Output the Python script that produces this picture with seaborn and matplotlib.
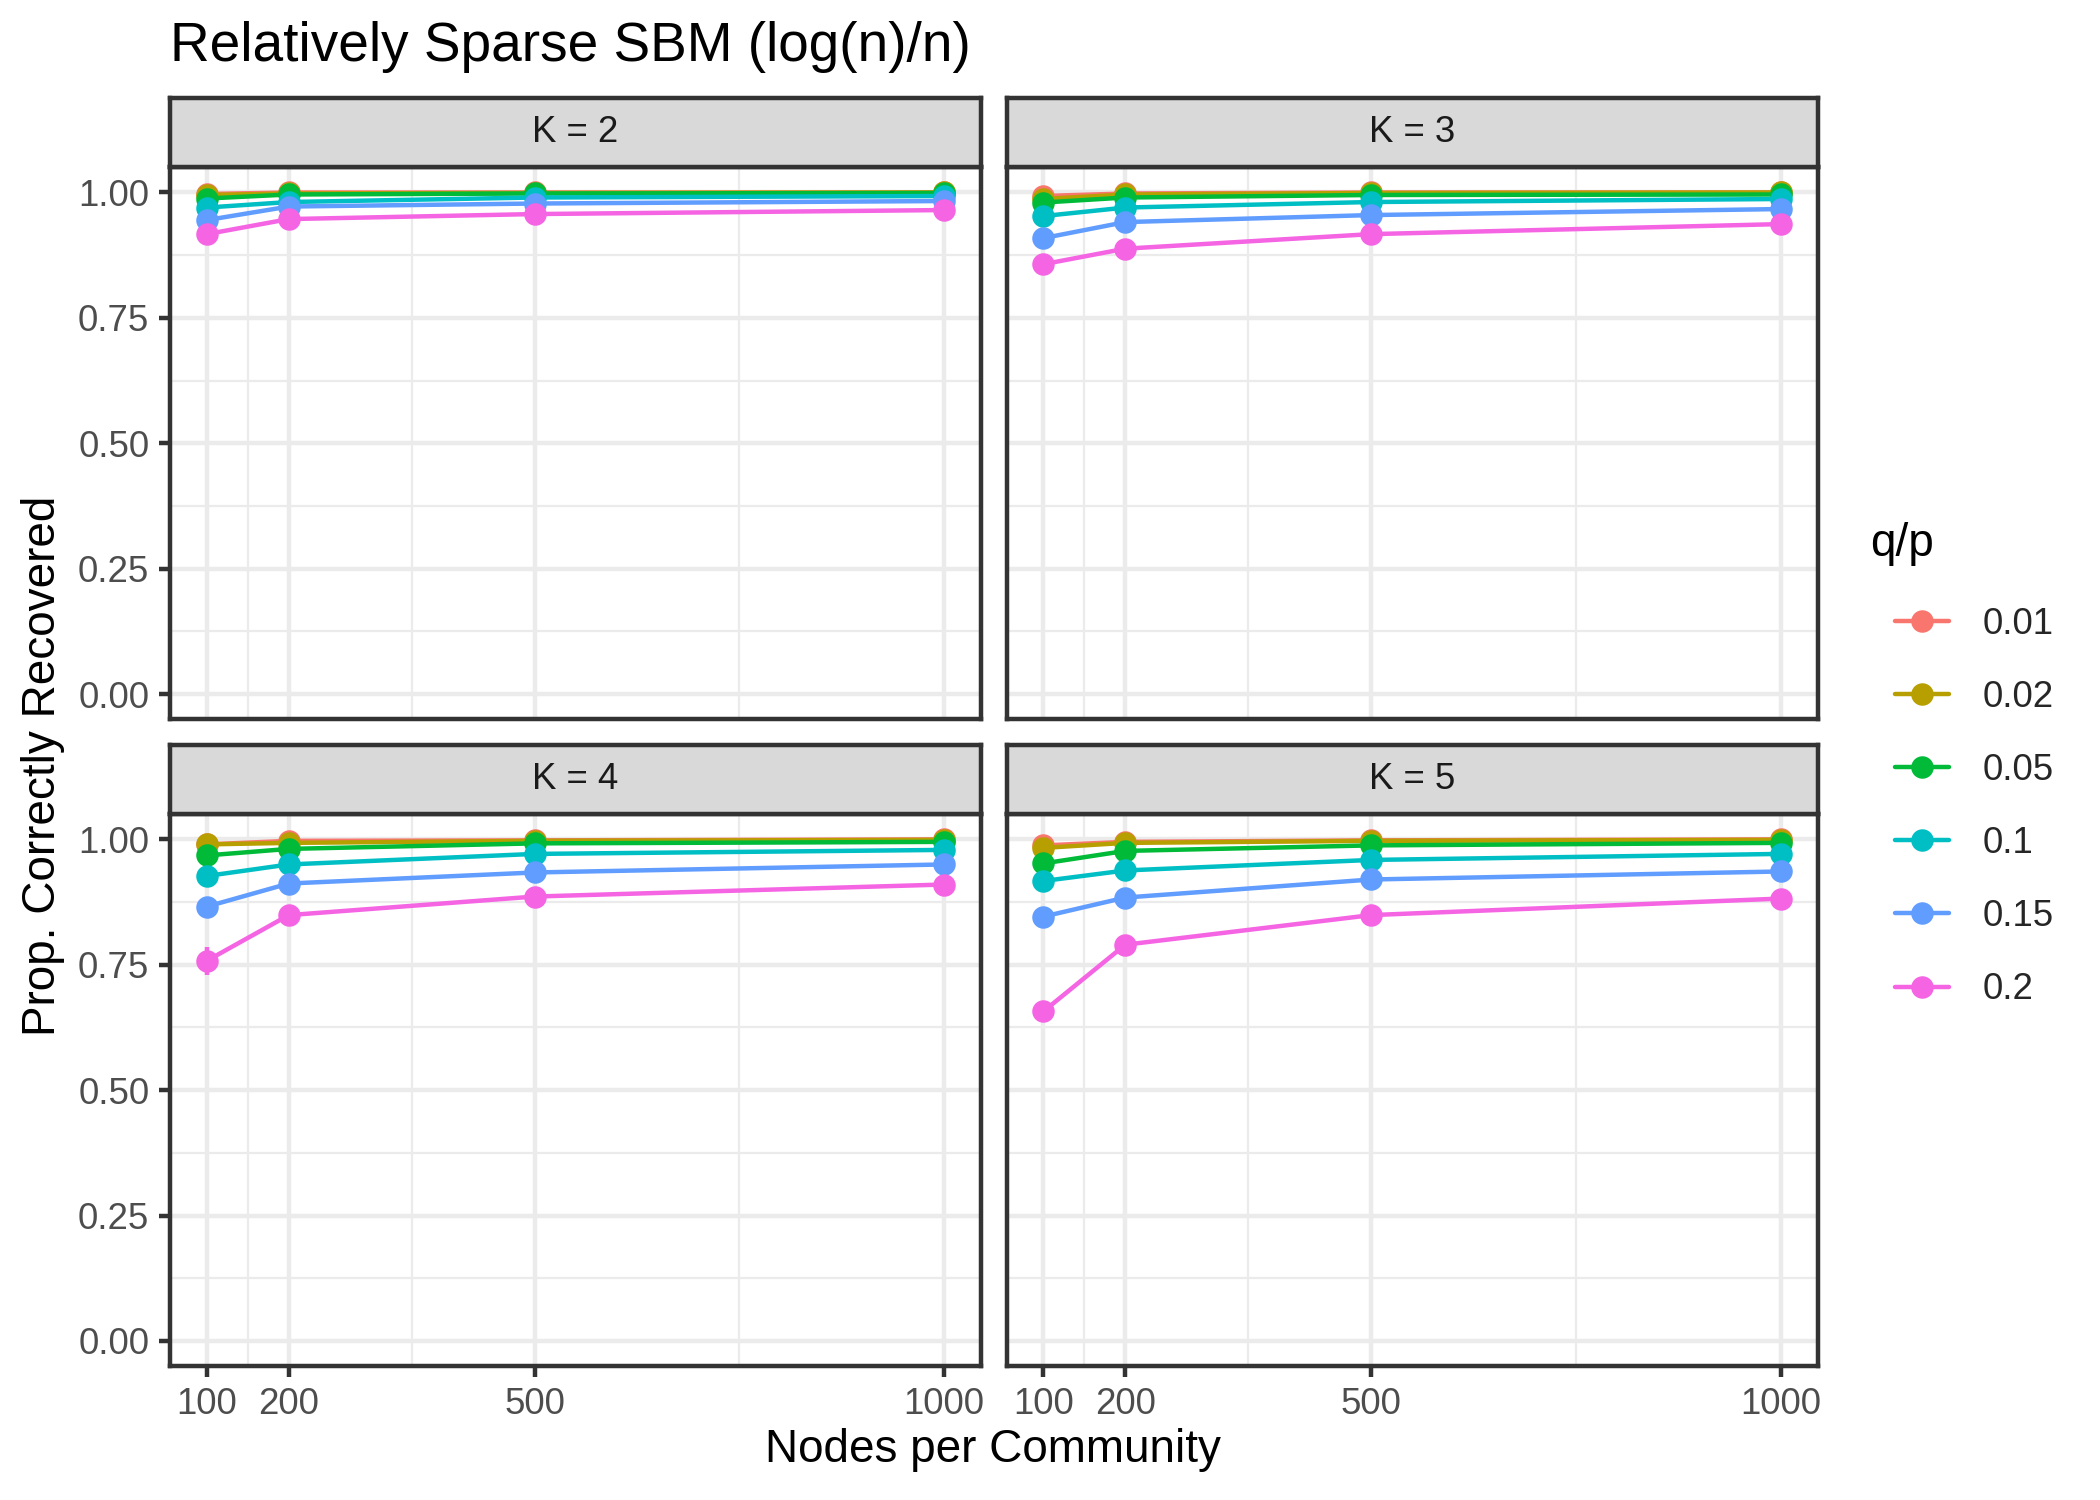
import numpy as np
import pandas as pd
import matplotlib
matplotlib.use("Agg")
import matplotlib.pyplot as plt
import seaborn as sns
from matplotlib.lines import Line2D

# ---------------- data ----------------
nodes = [100, 200, 500, 1000]
ratios = ["0.01", "0.02", "0.05", "0.1", "0.15", "0.2"]
palette = ["#F8766D", "#B79F00", "#00BA38", "#00BFC4", "#619CFF", "#F564E3"]

k2_001 = [0.997, 1.000, 1.000, 1.000]
k2_002 = [0.995, 0.998, 0.999, 1.000]
k2_005 = [0.988, 0.996, 0.998, 0.999]
k2_010 = [0.970, 0.981, 0.990, 0.993]
k2_015 = [0.945, 0.972, 0.978, 0.983]
k2_020 = [0.917, 0.947, 0.957, 0.965]

k3_001 = [0.993, 0.998, 1.000, 1.000]
k3_002 = [0.987, 0.996, 0.999, 1.000]
k3_005 = [0.980, 0.990, 0.995, 0.996]
k3_010 = [0.953, 0.970, 0.981, 0.987]
k3_015 = [0.909, 0.941, 0.955, 0.967]
k3_020 = [0.857, 0.888, 0.917, 0.937]

k4_001 = [0.990, 0.997, 0.998, 1.000]
k4_002 = [0.990, 0.993, 0.997, 0.999]
k4_005 = [0.968, 0.981, 0.992, 0.995]
k4_010 = [0.927, 0.950, 0.971, 0.979]
k4_015 = [0.866, 0.912, 0.934, 0.950]
k4_020 = [0.758, 0.849, 0.886, 0.910]

k5_001 = [0.988, 0.995, 0.998, 1.000]
k5_002 = [0.983, 0.993, 0.997, 0.999]
k5_005 = [0.952, 0.977, 0.988, 0.993]
k5_010 = [0.917, 0.938, 0.959, 0.971]
k5_015 = [0.846, 0.884, 0.920, 0.936]
k5_020 = [0.657, 0.790, 0.849, 0.882]

# standard errors (only the weakest setting is visibly non-zero)
err_small = [0.002, 0.001, 0.001, 0.001]
k2_020_err = [0.006, 0.003, 0.002, 0.002]
k3_020_err = [0.008, 0.004, 0.003, 0.002]
k4_020_err = [0.028, 0.006, 0.003, 0.002]
k5_020_err = [0.010, 0.006, 0.003, 0.002]

panels = {
    2: [k2_001, k2_002, k2_005, k2_010, k2_015, k2_020],
    3: [k3_001, k3_002, k3_005, k3_010, k3_015, k3_020],
    4: [k4_001, k4_002, k4_005, k4_010, k4_015, k4_020],
    5: [k5_001, k5_002, k5_005, k5_010, k5_015, k5_020],
}
errors = {
    2: [err_small] * 5 + [k2_020_err],
    3: [err_small] * 5 + [k3_020_err],
    4: [err_small] * 5 + [k4_020_err],
    5: [err_small] * 5 + [k5_020_err],
}

rows = []
for K, series in panels.items():
    for r, vals, errs in zip(ratios, series, errors[K]):
        for n, v, e in zip(nodes, vals, errs):
            rows.append(dict(K=K, n=n, ratio=r, prop=v, se=e))
df = pd.DataFrame(rows)

# ---------------- style ----------------
sns.set_theme(style="white")
plt.rcParams["font.family"] = ["Liberation Sans", "DejaVu Sans"]

W, H = 1569.0, 1120.0
fig = plt.figure(figsize=(7, 5), dpi=300)

lw_major = 1.07
grid_col = "#EBEBEB"
border_col = "#333333"
text_col = "#4D4D4D"
msize = 5.4

xlefts = [127, 752]
xw = 606
plot_tops = [125, 608]
ph = 412
sh = 52

def fx(px):
    return px / W

def fy(py):
    return 1 - py / H

order = [(2, 0, 0), (3, 0, 1), (4, 1, 0), (5, 1, 1)]
for K, r, c in order:
    x0 = xlefts[c]
    top = plot_tops[r]
    ax = fig.add_axes([fx(x0), fy(top + ph), xw / W, ph / H])
    sax = fig.add_axes([fx(x0), fy(top), xw / W, sh / H])

    sub = df[df.K == K]
    sns.lineplot(data=sub, x="n", y="prop", hue="ratio", hue_order=ratios,
                 palette=palette, marker="o", markersize=msize, markeredgewidth=0,
                 linewidth=lw_major, errorbar=None, legend=False, ax=ax, zorder=3)
    for rname, col in zip(ratios, palette):
        s = sub[sub.ratio == rname]
        ax.errorbar(s.n, s.prop, yerr=s.se, fmt="none", ecolor=col,
                    elinewidth=lw_major, capsize=0, zorder=2)

    ax.set_xlim(55, 1045)
    ax.set_ylim(-0.05, 1.05)
    ax.set_xticks(nodes)
    ax.set_xticks([150, 350, 750], minor=True)
    ax.set_yticks([0, 0.25, 0.5, 0.75, 1.0])
    ax.set_yticks([0.125, 0.375, 0.625, 0.875], minor=True)
    ax.grid(True, which="major", color=grid_col, linewidth=lw_major, zorder=0)
    ax.grid(True, which="minor", color=grid_col, linewidth=lw_major / 2, zorder=0)
    ax.set_axisbelow(True)
    ax.set_facecolor("white")
    for sp in ax.spines.values():
        sp.set_color(border_col)
        sp.set_linewidth(lw_major)
        sp.set_visible(True)
    ax.tick_params(which="major", length=2.75, width=lw_major, color=border_col,
                   labelsize=8.8, labelcolor=text_col, pad=2.2,
                   left=(c == 0), bottom=(r == 1),
                   labelleft=(c == 0), labelbottom=(r == 1))
    ax.tick_params(which="minor", length=0)
    ax.set_yticklabels(["0.00", "0.25", "0.50", "0.75", "1.00"])
    ax.set_xticklabels([str(n) for n in nodes])
    ax.set_xlabel("")
    ax.set_ylabel("")

    sax.set_facecolor("#D9D9D9")
    sax.set_xticks([])
    sax.set_yticks([])
    for sp in sax.spines.values():
        sp.set_color(border_col)
        sp.set_linewidth(lw_major)
        sp.set_visible(True)
    sax.text(0.5, 0.5, f"K = {K}", ha="center", va="center", fontsize=8.8,
             color="#1A1A1A", transform=sax.transAxes)

fig.text(fx(127), fy(35), "Relatively Sparse SBM (log(n)/n)", ha="left",
         va="center", fontsize=13.2, color="black")
fig.text(fx(742), fy(1083), "Nodes per Community", ha="center", va="center",
         fontsize=11, color="black")
fig.text(fx(32), fy(572), "Prop. Correctly Recovered", ha="center", va="center",
         rotation=90, fontsize=11, color="black")

# legend
fig.text(fx(1397), fy(406), "q/p", ha="left", va="center", fontsize=11,
         color="black")
handles = [Line2D([0], [0], color=col, lw=lw_major, marker="o", markersize=msize,
                  markeredgewidth=0) for col in palette]
leg = fig.legend(handles, ratios, loc="upper left",
                 bbox_to_anchor=(fx(1416), fy(453)), frameon=False,
                 fontsize=8.8, labelspacing=1.04,
                 handlelength=1.46, handletextpad=0.92, borderaxespad=0,
                 borderpad=0)

fig.savefig("out.png", dpi=300, facecolor="white")
